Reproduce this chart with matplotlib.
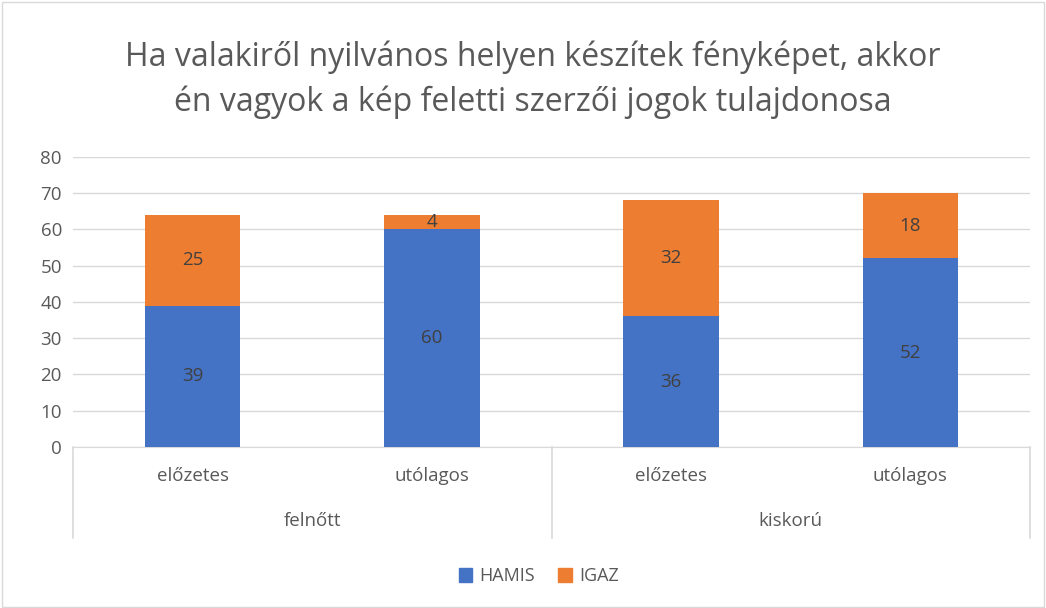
import matplotlib
matplotlib.use("Agg")
import matplotlib.pyplot as plt
from matplotlib.patches import Rectangle, Patch
import matplotlib.transforms as mtransforms

categories = ["előzetes", "utólagos", "előzetes", "utólagos"]
groups = ["felnőtt", "kiskorú"]
hamis = [39, 60, 36, 52]
igaz = [25, 4, 32, 18]
title = "Ha valakiről nyilvános helyen készítek fényképet, akkor\nén vagyok a kép feletti szerzői jogok tulajdonosa"

plt.rcParams['font.family'] = ['Open Sans', 'DejaVu Sans']
blue = "#4472C4"
orange = "#ED7D31"
txt = "#595959"
grid = "#D9D9D9"

fig = plt.figure(figsize=(10.46, 6.08), dpi=100)
fig.patches.append(Rectangle((0.002, 0.002), 0.996, 0.995, transform=fig.transFigure,
                             fill=False, edgecolor="#D9D9D9", linewidth=1))
ax = fig.add_axes([0.0698, 0.2648, 0.9149, 0.477])
x = list(range(len(categories)))
w = 0.4
ax.bar(x, hamis, width=w, color=blue, zorder=3)
ax.bar(x, igaz, width=w, bottom=hamis, color=orange, zorder=3)
for i in x:
    ax.text(i, hamis[i] / 2, str(hamis[i]), ha="center", va="center", fontsize=13.5, color="#404040", zorder=4)
    ax.text(i, hamis[i] + igaz[i] / 2, str(igaz[i]), ha="center", va="center", fontsize=13.5, color="#404040", zorder=4)

ax.set_ylim(0, 80)
ax.set_xlim(-0.5, 3.5)
ax.set_yticks(range(0, 81, 10))
ax.tick_params(axis="y", length=0, labelsize=13.5, labelcolor=txt, pad=8)
ax.set_xticks([])
ax.grid(axis="y", color=grid, linewidth=1, zorder=0)
for s in ["top", "right", "left"]:
    ax.spines[s].set_visible(False)
ax.spines["bottom"].set_color(grid)

trans = mtransforms.blended_transform_factory(ax.transData, ax.transAxes)
for xs in [-0.5, 1.5, 3.5]:
    ax.plot([xs, xs], [0, -0.315], transform=trans, color=grid, linewidth=1.2, clip_on=False)
for i, c in enumerate(categories):
    ax.text(i, -0.1, c, transform=trans, ha="center", va="center", fontsize=13.5, color=txt)
for g, gname in enumerate(groups):
    ax.text(g * 2 + 0.5, -0.255, gname, transform=trans, ha="center", va="center", fontsize=13.5, color=txt)

fig.text(0.509, 0.869, title, ha="center", va="center", fontsize=23, color=txt, linespacing=1.42)

handles = [Patch(color=blue, label="HAMIS"), Patch(color=orange, label="IGAZ")]
fig.legend(handles=handles, loc="center", bbox_to_anchor=(0.515, 0.052), ncol=2, frameon=False,
           fontsize=13, labelcolor=txt, handlelength=0.75, handleheight=0.75, handletextpad=0.4, columnspacing=1.3)

fig.savefig("out.png", dpi=100)
